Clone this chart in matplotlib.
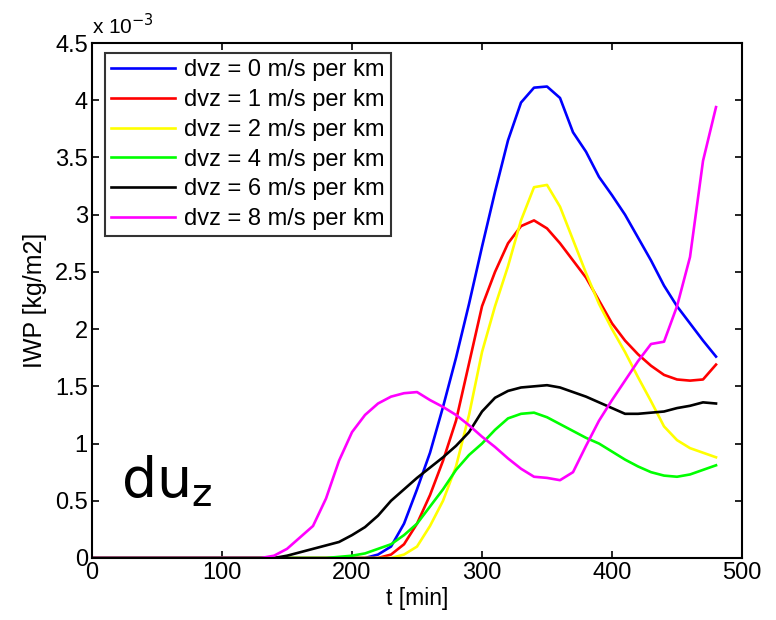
import numpy as np
import matplotlib
matplotlib.use('Agg')
import matplotlib.pyplot as plt

plt.rcParams['font.family'] = ['Liberation Sans', 'DejaVu Sans']

# time axis, minutes (10 min output)
t = np.arange(0, 490, 10)

# IWP in units of 1e-3 kg/m2
iwp0 = [0]*21 + [0.0, 0.03, 0.1, 0.3, 0.6, 0.92, 1.32, 1.75, 2.22, 2.72, 3.2, 3.65, 3.98, 4.11,
                 4.12, 4.02, 3.72, 3.55, 3.33, 3.17, 3.0, 2.8, 2.6, 2.38, 2.2, 2.05, 1.9, 1.76]
iwp1 = [0]*22 + [0.0, 0.03, 0.12, 0.3, 0.55, 0.85, 1.2, 1.7, 2.2, 2.5, 2.75, 2.9, 2.95,
                 2.88, 2.75, 2.6, 2.45, 2.25, 2.05, 1.9, 1.78, 1.68, 1.6, 1.56, 1.55, 1.56, 1.69]
iwp2 = [0]*23 + [0.0, 0.03, 0.1, 0.28, 0.5, 0.8, 1.25, 1.8, 2.2, 2.55, 2.95, 3.24,
                 3.26, 3.07, 2.78, 2.49, 2.22, 2.0, 1.8, 1.58, 1.37, 1.15, 1.03, 0.96, 0.92, 0.88]
iwp4 = [0]*19 + [0.01, 0.02, 0.04, 0.08, 0.12, 0.2, 0.3, 0.45, 0.6, 0.77, 0.9, 1.0, 1.12, 1.22,
                 1.26, 1.27, 1.23, 1.17, 1.11, 1.05, 1.0, 0.93, 0.86, 0.8, 0.75, 0.72, 0.71, 0.73,
                 0.77, 0.81]
iwp6 = [0]*14 + [0.0, 0.02, 0.05, 0.08, 0.11, 0.14, 0.2, 0.27, 0.37, 0.5, 0.6, 0.7, 0.79, 0.88,
                 0.98, 1.1, 1.28, 1.4, 1.46, 1.49, 1.5, 1.51, 1.49, 1.45, 1.41, 1.36, 1.31, 1.26,
                 1.26, 1.27, 1.28, 1.31, 1.33, 1.36, 1.35]
iwp8 = [0]*13 + [0.0, 0.02, 0.08, 0.18, 0.28, 0.52, 0.85, 1.1, 1.25, 1.35, 1.41, 1.44, 1.45,
                 1.38, 1.32, 1.25, 1.16, 1.06, 0.97, 0.87, 0.78, 0.71, 0.7, 0.68, 0.75, 0.98, 1.2,
                 1.38, 1.55, 1.72, 1.87, 1.89, 2.2, 2.63, 3.47, 3.94]

series = [iwp0, iwp1, iwp2, iwp4, iwp6, iwp8]
labels = ['dvz = 0 m/s per km', 'dvz = 1 m/s per km', 'dvz = 2 m/s per km',
          'dvz = 4 m/s per km', 'dvz = 6 m/s per km', 'dvz = 8 m/s per km']
colors = ['#0000ff', '#ff0000', '#ffff00', '#00ff00', '#000000', '#ff00ff']

fig = plt.figure(figsize=(7.76, 6.2), dpi=100)
ax = fig.add_axes([0.1186, 0.1, 0.8376, 0.8306])

for y, lab, c in zip(series, labels, colors):
    ax.plot(t, y, color=c, lw=1.9, label=lab)

ax.set_xlim(0, 500)
ax.set_ylim(0, 4.5)
ax.set_xticks(np.arange(0, 501, 100))
ax.set_yticks(np.arange(0, 4.51, 0.5))
ax.set_yticklabels(['0', '0.5', '1', '1.5', '2', '2.5', '3', '3.5', '4', '4.5'])
ax.tick_params(direction='in', top=True, right=True, labelsize=17, length=5, width=1.2, pad=3)
for s in ax.spines.values():
    s.set_linewidth(1.5)

ax.set_xlabel('t [min]', fontsize=16.5, labelpad=2)
ax.set_ylabel('IWP [kg/m2]', fontsize=18, labelpad=6)
ax.text(0.0, 1.01, 'x 10$^{-3}$', transform=ax.transAxes, fontsize=15, va='bottom', ha='left')

leg = ax.legend(loc='upper left', bbox_to_anchor=(0.02, 0.98), fontsize=17,
                frameon=True, fancybox=False, edgecolor='black', handlelength=2.7,
                handletextpad=0.4, labelspacing=0.33, borderpad=0.25, borderaxespad=0)
leg.get_frame().set_linewidth(1.5)

ax.text(0.045, 0.095, 'du$_\\mathregular{z}$', transform=ax.transAxes, fontsize=40,
        family='DejaVu Sans', va='bottom', ha='left')

fig.savefig('out.png', dpi=100)
